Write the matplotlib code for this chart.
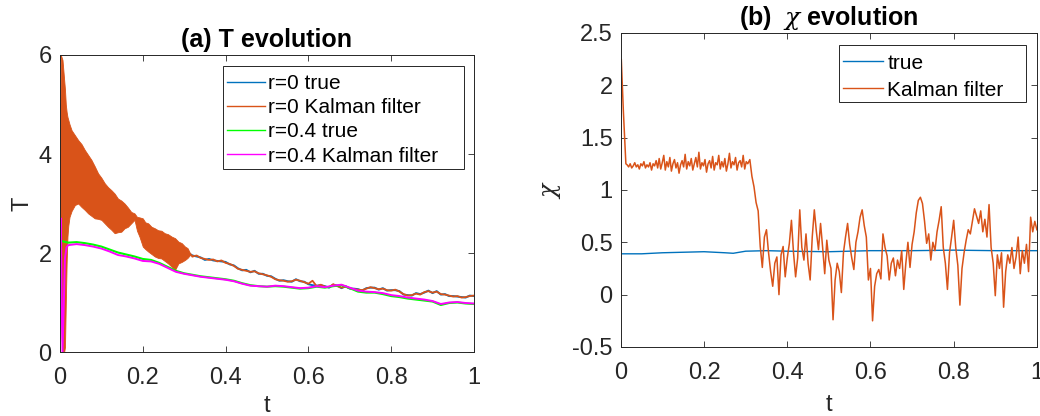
import numpy as np
import matplotlib
matplotlib.use("Agg")
import matplotlib.pyplot as plt
from matplotlib.patches import Rectangle

plt.rcParams["font.family"] = ["Liberation Sans", "DejaVu Sans"]
plt.rcParams["mathtext.fontset"] = "dejavuserif"

# ---------------------------------------------------------------------------
# Data
# ---------------------------------------------------------------------------
# (a) T evolution -- r=0 Kalman filter, dense oscillating band up to t=0.32
BAND_T = [0, 0.002, 0.004, 0.006, 0.008, 0.010, 0.012, 0.014, 0.016, 0.018,
          0.020, 0.023, 0.028, 0.036, 0.044, 0.052, 0.060, 0.068, 0.076, 0.084,
          0.092, 0.100, 0.108, 0.116, 0.124, 0.132, 0.140, 0.148, 0.156, 0.164,
          0.172, 0.180, 0.186, 0.192, 0.200, 0.206, 0.213, 0.221, 0.229, 0.237,
          0.245, 0.253, 0.261, 0.270, 0.278, 0.286, 0.294, 0.302, 0.308, 0.314,
          0.320]
BAND_HI = [3.7, 6.0, 5.95, 5.9, 5.7, 5.5, 5.3, 5.0, 4.85, 4.75,
           4.69, 4.6, 4.48, 4.38, 4.28, 4.2, 4.08, 3.98, 3.88, 3.75,
           3.61, 3.52, 3.41, 3.33, 3.27, 3.2, 3.1, 3.06, 3.0, 2.92,
           2.83, 2.8, 2.73, 2.72, 2.7, 2.62, 2.6, 2.53, 2.5, 2.46,
           2.45, 2.4, 2.38, 2.33, 2.3, 2.23, 2.2, 2.13, 2.1, 2.0,
           1.95]
BAND_LO = [2.8, 1.5, 0.3, 0.0, 0.0, 0.0, 0.1, 1.0, 1.8, 2.33,
           2.55, 2.73, 2.85, 2.97, 3.0, 2.93, 2.87, 2.8, 2.75, 2.7,
           2.69, 2.67, 2.6, 2.53, 2.47, 2.4, 2.42, 2.43, 2.5, 2.53,
           2.6, 2.67, 2.45, 2.33, 2.13, 2.08, 2.03, 1.98, 1.93, 1.9,
           1.89, 1.84, 1.79, 1.72, 1.66, 1.79, 1.82, 1.86, 1.9, 1.96,
           1.93]

# r=0 true, hidden under the band
R0_TRUE_EARLY_T = [0, 0.05, 0.10, 0.15, 0.18, 0.22, 0.26, 0.30, 0.32]
R0_TRUE_EARLY = [5.0, 3.9, 3.3, 2.95, 2.7, 2.5, 2.25, 2.05, 1.95]

# t = 0.32 ... 1.00, step 0.01
R0_KF_LATE = [1.93, 1.95, 1.90, 1.88, 1.86, 1.87, 1.83, 1.85, 1.80, 1.78,
              1.74, 1.68, 1.66, 1.64, 1.62, 1.63, 1.59, 1.57, 1.55, 1.52,
              1.47, 1.45, 1.44, 1.42, 1.43, 1.46, 1.44, 1.41, 1.38, 1.44,
              1.33, 1.36, 1.32, 1.31, 1.37, 1.33, 1.30, 1.32, 1.29, 1.27,
              1.26, 1.25, 1.28, 1.31, 1.29, 1.27, 1.28, 1.25, 1.24, 1.26,
              1.22, 1.17, 1.14, 1.15, 1.18, 1.16, 1.21, 1.23, 1.20, 1.22,
              1.17, 1.16, 1.14, 1.12, 1.13, 1.10, 1.11, 1.13, 1.14]
R0_TRUE_LATE = [1.95, 1.93, 1.91, 1.86, 1.88, 1.85, 1.84, 1.83, 1.82, 1.77,
                1.75, 1.69, 1.65, 1.66, 1.61, 1.64, 1.58, 1.58, 1.54, 1.53,
                1.48, 1.44, 1.45, 1.43, 1.42, 1.47, 1.43, 1.42, 1.37, 1.35,
                1.34, 1.35, 1.33, 1.30, 1.36, 1.34, 1.29, 1.33, 1.28, 1.28,
                1.27, 1.24, 1.29, 1.30, 1.30, 1.26, 1.29, 1.24, 1.25, 1.25,
                1.23, 1.16, 1.15, 1.14, 1.19, 1.17, 1.20, 1.24, 1.19, 1.23,
                1.16, 1.17, 1.13, 1.13, 1.12, 1.11, 1.10, 1.14, 1.13]

# r=0.4 true: t=0 then t = 0.02 ... 1.00, step 0.02
R4_TRUE = [2.25,
           2.21, 2.22, 2.20, 2.17, 2.13, 2.07, 2.01, 1.97, 1.93, 1.88,
           1.86, 1.80, 1.72, 1.64, 1.59, 1.56, 1.53, 1.51, 1.49, 1.47,
           1.44, 1.39, 1.35, 1.33, 1.32, 1.33, 1.32, 1.30, 1.28, 1.29,
           1.32, 1.30, 1.33, 1.35, 1.29, 1.22, 1.20, 1.20, 1.17, 1.13,
           1.11, 1.08, 1.06, 1.04, 1.02, 0.95, 0.99, 1.00, 0.98, 0.97]
# r=0.4 Kalman filter: initial spike, then t = 0.02 ... 1.00, step 0.02
R4_KF_START_T = [0, 0.002, 0.004, 0.006, 0.009, 0.012, 0.016]
R4_KF_START = [1.2, 2.7, 1.0, 0.0, 0.9, 1.9, 2.12]
R4_KF = [2.16, 2.18, 2.16, 2.13, 2.09, 2.03, 1.96, 1.93, 1.89, 1.84,
         1.83, 1.78, 1.70, 1.62, 1.58, 1.55, 1.52, 1.50, 1.48, 1.46,
         1.43, 1.38, 1.34, 1.33, 1.32, 1.34, 1.33, 1.31, 1.29, 1.30,
         1.33, 1.31, 1.34, 1.36, 1.30, 1.24, 1.22, 1.21, 1.19, 1.15,
         1.13, 1.10, 1.08, 1.06, 1.03, 0.97, 1.00, 1.01, 0.99, 0.98]

# (b) chi evolution
CHI_TRUE_T = [0, 0.05, 0.10, 0.15, 0.20, 0.25, 0.27, 0.30, 0.35, 0.40,
              0.50, 0.60, 0.70, 0.80, 0.90, 1.00]
CHI_TRUE = [0.39, 0.39, 0.40, 0.405, 0.41, 0.40, 0.395, 0.415, 0.42, 0.415,
            0.41, 0.42, 0.42, 0.425, 0.42, 0.42]

CHI_KF_START_T = [0, 0.001, 0.003, 0.006, 0.009, 0.012]
CHI_KF_START = [1.0, 2.25, 2.05, 1.75, 1.5, 1.25]
# plateau, t = 0.015 ... 0.305
CHI_KF_PLATEAU = [1.24, 1.22, 1.25, 1.21, 1.23, 1.26, 1.22, 1.24, 1.20, 1.25,
                  1.23, 1.27, 1.21, 1.24, 1.22, 1.26, 1.19, 1.25, 1.23, 1.28,
                  1.21, 1.30, 1.20, 1.26, 1.33, 1.19, 1.27, 1.22, 1.31, 1.18,
                  1.25, 1.29, 1.21, 1.26, 1.16, 1.24, 1.28, 1.22, 1.34, 1.20,
                  1.27, 1.23, 1.30, 1.19, 1.25, 1.31, 1.22, 1.36, 1.20, 1.26,
                  1.23, 1.29, 1.17, 1.25, 1.28, 1.21, 1.32, 1.19, 1.26, 1.24,
                  1.33, 1.20, 1.27, 1.22, 1.30, 1.18, 1.25, 1.35, 1.21, 1.27,
                  1.24, 1.31, 1.19, 1.26, 1.28, 1.22, 1.33, 1.20, 1.27, 1.25]
# drop and fluctuations, t = 0.31 ... 1.00, step 0.005
CHI_KF_TAIL = [1.29, 1.13, 1.03, 0.88, 0.80, 0.46, 0.26, 0.55, 0.62, 0.40,
               0.22, 0.08, 0.30, 0.36, 0.00, 0.38, 0.46, 0.17, 0.35, 0.49,
               0.71, 0.40, 0.17, 0.35, 0.81, 0.45, 0.33, 0.58, 0.30, 0.14,
               0.55, 0.81, 0.60, 0.43, 0.68, 0.45, 0.20, 0.52, 0.33, 0.25,
               -0.24, 0.14, 0.30, 0.22, 0.02, 0.40, 0.55, 0.68, 0.48, 0.35,
               0.24, 0.50, 0.60, 0.74, 0.81, 0.66, 0.55, 0.14, 0.25, -0.25,
               0.08, 0.20, 0.24, 0.15, 0.58, 0.45, 0.37, 0.14, 0.30, 0.35,
               0.18, 0.33, 0.25, 0.42, 0.05, 0.30, 0.50, 0.26, 0.48, 0.60,
               0.78, 0.90, 0.93, 0.87, 0.70, 0.49, 0.58, 0.33, 0.50, 0.42,
               0.60, 0.71, 0.84, 0.45, 0.30, 0.05, 0.40, 0.55, 0.71, 0.45,
               0.28, -0.10, 0.25, 0.40, 0.52, 0.62, 0.58, 0.70, 0.82, 0.75,
               0.68, 0.80, 0.60, 0.72, 0.55, 0.86, 0.45, 0.30, -0.01, 0.38,
               0.25, 0.40, -0.12, 0.22, 0.38, 0.30, 0.45, 0.25, 0.36, 0.55,
               0.20, 0.42, 0.30, 0.48, 0.22, 0.74, 0.60, 0.70, 0.62]

# ---------------------------------------------------------------------------
# MATLAB-like colours
# ---------------------------------------------------------------------------
BLUE = "#0072BD"
ORANGE = "#D95319"
GREEN = "#00FF00"
MAGENTA = "#FF00FF"
AX_COLOR = "#262626"


def style_ax(ax):
    for sp in ax.spines.values():
        sp.set_color(AX_COLOR)
        sp.set_linewidth(0.7)
    ax.tick_params(direction="in", top=True, right=True, length=4, width=0.6,
                   labelsize=17, colors=AX_COLOR)
    ax.tick_params(axis="x", pad=11)
    ax.tick_params(axis="y", pad=6)


def legend(ax, handles, labels, frame, anchor, spacing, hlen, hpad):
    # MATLAB-style box: frame drawn separately to get its loose right padding
    x0, y0, x1, y1 = frame
    ax.add_patch(Rectangle((x0, y0), x1 - x0, y1 - y0, transform=ax.transAxes,
                           facecolor="white", edgecolor=AX_COLOR, lw=0.7, zorder=5))
    leg = ax.legend(handles, labels, loc="upper left", bbox_to_anchor=anchor,
                    borderaxespad=0, borderpad=0, fontsize=15, frameon=False,
                    handlelength=hlen, handletextpad=hpad, labelspacing=spacing)
    leg.set_zorder(6)
    for line in leg.get_lines():
        line.set_linewidth(1.0)


fig = plt.figure(figsize=(10.4, 4.16), dpi=100)
ax1 = fig.add_axes([0.0577, 0.1538, 0.398, 0.714])
ax2 = fig.add_axes([0.597, 0.1659, 0.4, 0.755])

# ── (a) T evolution ─────────────────────────────────────────────────────
t_late = np.linspace(0.32, 1.0, len(R0_KF_LATE))
t_r4 = np.concatenate([[0.0], np.linspace(0.02, 1.0, len(R4_TRUE) - 1)])
t_r4kf = np.concatenate([R4_KF_START_T, np.linspace(0.02, 1.0, len(R4_KF))])

h1, = ax1.plot(np.concatenate([R0_TRUE_EARLY_T, t_late[1:]]),
               np.concatenate([R0_TRUE_EARLY, R0_TRUE_LATE[1:]]), color=BLUE, lw=1.4)
ax1.fill_between(BAND_T, BAND_LO, BAND_HI, color=ORANGE, lw=0.6, zorder=2)
h2, = ax1.plot(t_late, R0_KF_LATE, color=ORANGE, lw=1.3)
h3, = ax1.plot(t_r4, R4_TRUE, color=GREEN, lw=1.5)
h4, = ax1.plot(t_r4kf, np.concatenate([R4_KF_START, R4_KF]), color=MAGENTA, lw=1.4)

ax1.set_xlim(0, 1)
ax1.set_ylim(0, 6)
ax1.set_xticks([0, 0.2, 0.4, 0.6, 0.8, 1])
ax1.set_xticklabels(["0", "0.2", "0.4", "0.6", "0.8", "1"])
ax1.set_yticks([0, 2, 4, 6])
style_ax(ax1)
ax1.set_title("(a) T evolution", fontsize=18, fontweight="bold", color="black", pad=6)
ax1.set_xlabel("t", fontsize=17, color=AX_COLOR)
ax1.set_ylabel("T", fontsize=17, color=AX_COLOR)
ax1.xaxis.set_label_coords(0.5, -0.145)
ax1.yaxis.set_label_coords(-0.065, 0.5)
legend(ax1, [h1, h2, h3, h4],
       ["r=0 true", "r=0 Kalman filter", "r=0.4 true", "r=0.4 Kalman filter"],
       frame=(0.394, 0.616, 0.976, 0.963), anchor=(0.403, 0.936),
       spacing=0.25, hlen=1.83, hpad=0.15)

# ── (b) chi evolution ──────────────────────────────────────────────────
t_chi = np.concatenate([CHI_KF_START_T,
                        np.linspace(0.015, 0.305, len(CHI_KF_PLATEAU)),
                        np.linspace(0.31, 1.0, len(CHI_KF_TAIL))])
chi_kf = np.concatenate([CHI_KF_START, CHI_KF_PLATEAU, CHI_KF_TAIL])

g1, = ax2.plot(CHI_TRUE_T, CHI_TRUE, color=BLUE, lw=1.0)
g2, = ax2.plot(t_chi, chi_kf, color=ORANGE, lw=1.1)

ax2.set_xlim(0, 1)
ax2.set_ylim(-0.5, 2.5)
ax2.set_xticks([0, 0.2, 0.4, 0.6, 0.8, 1])
ax2.set_xticklabels(["0", "0.2", "0.4", "0.6", "0.8", "1"])
ax2.set_yticks([-0.5, 0, 0.5, 1, 1.5, 2, 2.5])
ax2.set_yticklabels(["-0.5", "0", "0.5", "1", "1.5", "2", "2.5"])
style_ax(ax2)
ax2.set_title(r"(b)  $\chi$ evolution", fontsize=18, fontweight="bold", color="black", pad=6)
ax2.set_xlabel("t", fontsize=17, color=AX_COLOR)
ax2.set_ylabel(r"$\chi$", fontsize=17, color=AX_COLOR)
ax2.xaxis.set_label_coords(0.5, -0.15)
ax2.yaxis.set_label_coords(-0.14, 0.5)
legend(ax2, [g1, g2], ["true", "Kalman filter"],
       frame=(0.524, 0.780, 0.974, 0.962), anchor=(0.534, 0.934),
       spacing=0.38, hlen=1.92, hpad=0.2)

fig.savefig("out.png", dpi=100, facecolor="white")
plt.close(fig)
